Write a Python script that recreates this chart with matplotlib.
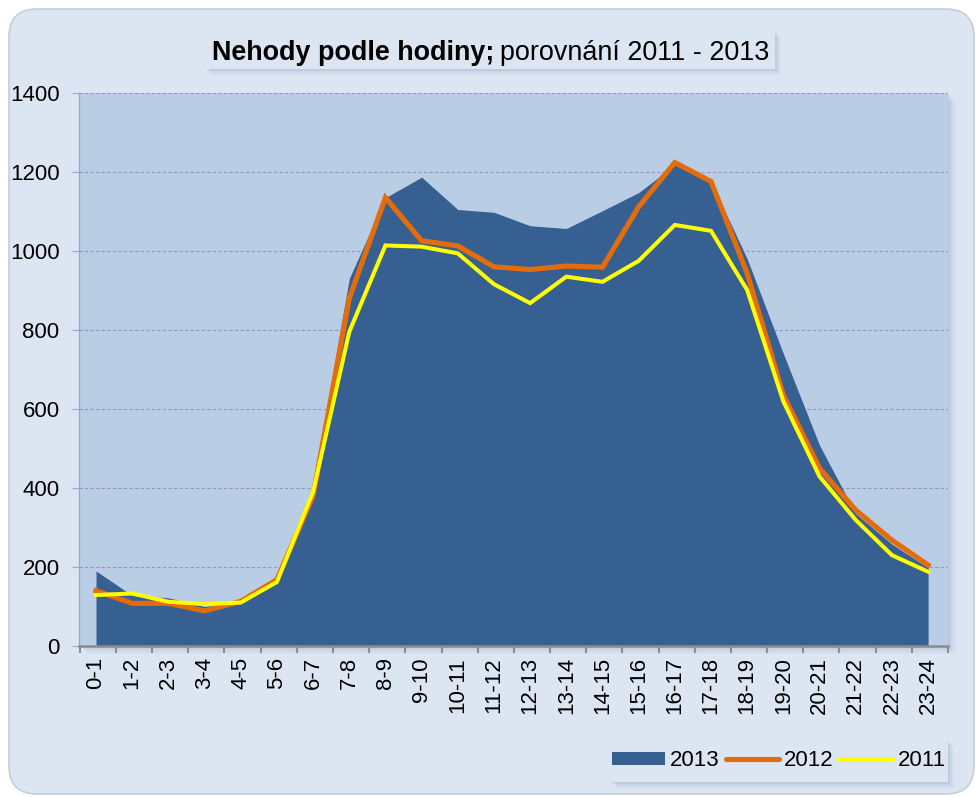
import matplotlib
matplotlib.use("Agg")
import matplotlib.pyplot as plt
from matplotlib.patches import Rectangle, FancyBboxPatch, Patch
from matplotlib.lines import Line2D
import numpy as np

plt.rcParams['font.family'] = ['Liberation Sans', 'DejaVu Sans']

hours = ["0-1", "1-2", "2-3", "3-4", "4-5", "5-6", "6-7", "7-8", "8-9", "9-10",
         "10-11", "11-12", "12-13", "13-14", "14-15", "15-16", "16-17", "17-18",
         "18-19", "19-20", "20-21", "21-22", "22-23", "23-24"]
y2013 = [190, 128, 122, 100, 110, 160, 405, 930, 1135, 1187, 1105, 1098,
         1064, 1057, 1102, 1148, 1218, 1176, 980, 740, 508, 335, 258, 198]
y2012 = [140, 108, 108, 89, 113, 168, 380, 880, 1135, 1026, 1013, 960,
         953, 962, 959, 1112, 1224, 1176, 943, 635, 450, 344, 268, 205]
y2011 = [129, 133, 112, 106, 110, 162, 390, 795, 1014, 1011, 994, 916,
         868, 935, 922, 975, 1066, 1051, 901, 619, 429, 319, 230, 188]

W, H = 977, 797
BG = "#dce6f2"
PLOT_BG = "#b9cde5"
AREA = "#366092"
ORANGE = "#e46c0a"
YELLOW = "#ffff00"
FS = 16

fig = plt.figure(figsize=(W / 100, H / 100), dpi=100, facecolor="white")

# rounded outer frame
frame = FancyBboxPatch((9, 3), W - 12, H - 12,
                       boxstyle="round,pad=0,rounding_size=28",
                       transform=None, facecolor=BG, edgecolor="#c4cdd8",
                       linewidth=1.2, zorder=0)
fig.patches.append(frame)

# plot area geometry (pixels)
L, R, T, B = 79, 948, 93, 646
ax = fig.add_axes([L / W, (H - B) / H, (R - L) / W, (B - T) / H])

# soft shadow behind plot area
for i, a in enumerate([0.10, 0.08, 0.06, 0.04]):
    off = 2 + i * 2
    sh = Rectangle((L + off, H - B - off), R - L, B - T, transform=None,
                   facecolor="#5a7aa8", edgecolor="none", alpha=a, zorder=1)
    fig.patches.append(sh)

ax.set_facecolor(PLOT_BG)
ax.set_zorder(2)
x = np.arange(len(hours))

ax.fill_between(x, 0, y2013, color=AREA, linewidth=0, zorder=2)
ax.plot(x, y2012, color=ORANGE, lw=3.7, solid_joinstyle="miter", zorder=3)
ax.plot(x, y2011, color=YELLOW, lw=2.9, solid_joinstyle="miter", zorder=4)

ax.set_xlim(-0.47, 23.44)
ax.set_ylim(0, 1400)
ax.set_yticks(range(0, 1401, 200))
ax.yaxis.grid(True, color="#9b8fce", linestyle=(0, (3, 2)), linewidth=0.8, zorder=1)
ax.set_axisbelow(True)

ax.set_xticks(x)
ax.set_xticklabels(hours, rotation=90, fontsize=FS)
ax.tick_params(axis="x", which="major", length=0, pad=8)
ax.set_xticks(np.arange(25) - 0.45, minor=True)
ax.tick_params(axis="x", which="minor", length=5, width=1.5, color="#8c8c8c")
ax.tick_params(axis="y", labelsize=FS, length=5, width=0.8, color="#8eaadb", pad=9)

for s in ["top", "right"]:
    ax.spines[s].set_visible(False)
ax.spines["left"].set_color("#8eaadb")
ax.spines["left"].set_linewidth(0.9)
ax.spines["bottom"].set_color("#8c8c8c")
ax.spines["bottom"].set_linewidth(1.8)

# title box with shadow
tx0, ty0, tx1, ty1 = 205, 31, 775, 69
for i, a in enumerate([0.12, 0.08, 0.05]):
    off = 2 + i * 2
    fig.patches.append(Rectangle((tx0 + off, H - ty1 - off), tx1 - tx0, ty1 - ty0,
                                 transform=None, facecolor="#5a7aa8",
                                 edgecolor="none", alpha=a, zorder=1))
fig.patches.append(Rectangle((tx0, H - ty1), tx1 - tx0, ty1 - ty0, transform=None,
                             facecolor=BG, edgecolor="none", zorder=2))

t1 = fig.text(212 / W, (H - 60) / H, "Nehody podle hodiny;", fontsize=19.4,
              fontweight="bold", ha="left", va="baseline")
fig.canvas.draw()
bb = t1.get_window_extent()
fig.text((bb.x1 + 6) / W, (H - 60) / H, "porovnání 2011 - 2013", fontsize=19.4,
         ha="left", va="baseline")

# legend box with shadow
lx0, ly0, lx1, ly1 = 610, 740, 948, 782
for i, a in enumerate([0.12, 0.08, 0.05]):
    off = 2 + i * 2
    fig.patches.append(Rectangle((lx0 + off, H - ly1 - off), lx1 - lx0, ly1 - ly0,
                                 transform=None, facecolor="#5a7aa8",
                                 edgecolor="none", alpha=a, zorder=1))
fig.patches.append(Rectangle((lx0, H - ly1), lx1 - lx0, ly1 - ly0, transform=None,
                             facecolor=BG, edgecolor="none", zorder=2))

handles = [Patch(facecolor=AREA, edgecolor="none", label="2013"),
           Line2D([], [], color=ORANGE, lw=3.7, solid_capstyle="round", label="2012"),
           Line2D([], [], color=YELLOW, lw=2.9, label="2011")]
fig.legend(handles=handles, loc="center", ncol=3,
           bbox_to_anchor=((lx0 + lx1) / 2 / W, (H - (ly0 + ly1) / 2) / H),
           frameon=False, fontsize=FS, handlelength=2.4, handleheight=0.5,
           handletextpad=0.2, columnspacing=0.3, borderpad=0)

fig.savefig("out.png", dpi=100, facecolor="white")
